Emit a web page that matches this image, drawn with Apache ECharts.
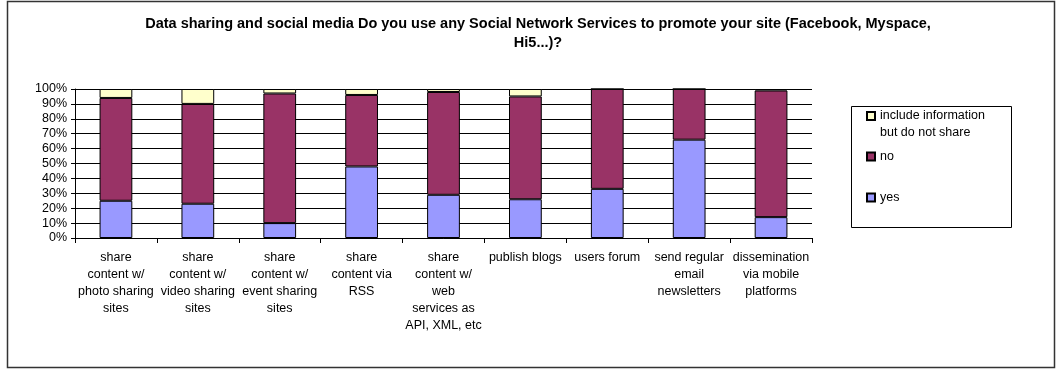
<!DOCTYPE html>
<html>
<head>
<meta charset="utf-8">
<script src="https://cdn.jsdelivr.net/npm/echarts@6/dist/echarts.min.js"></script>
<style>
  html, body { margin: 0; padding: 0; background: #fff; }
  #chart { width: 1063px; height: 369px; }
</style>
</head>
<body>
<div id="chart"></div>
<script>
// Survey question and answer categories
const titleText = 'Data sharing and social media Do you use any Social Network Services to promote your site (Facebook, Myspace,\nHi5...)?';
const categories = [
  'share\ncontent w/\nphoto sharing\nsites',
  'share\ncontent w/\nvideo sharing\nsites',
  'share\ncontent w/\nevent sharing\nsites',
  'share\ncontent via\nRSS',
  'share\ncontent w/\nweb\nservices as\nAPI, XML, etc',
  'publish blogs',
  'users forum',
  'send regular\nemail\nnewsletters',
  'dissemination\nvia mobile\nplatforms'
];
// Percent of respondents per answer
const yesValues     = [25, 23, 10, 48, 29, 26, 33, 66, 14];
const noValues      = [69, 67, 87, 48, 69, 69, 67, 34, 85];
const includeValues = [6, 10, 3, 4, 2, 5, 0, 0, 1];
const seriesNames = ['yes', 'no', 'include information but do not share'];
const yTicks = [0, 10, 20, 30, 40, 50, 60, 70, 80, 90, 100];

const FONT = '"Liberation Sans", Arial, sans-serif';
const colors = { yes: '#9999FF', no: '#993366', include: '#FFFFCC' };

const chart = echarts.init(document.getElementById('chart'), null, { renderer: 'canvas' });

// One legend block per entry so each row sits at its own height;
// the long entry wraps onto two lines with its marker beside the first line.
function legendItem(name, top) {
  return {
    orient: 'vertical',
    left: 866,
    top: top,
    padding: 0,
    itemWidth: 8,
    itemHeight: 8,
    itemGap: 0,
    icon: 'rect',
    selectedMode: false,
    data: [name],
    formatter: n => n === seriesNames[2] ? '\ninclude information\nbut do not share' : n,
    textStyle: { fontFamily: FONT, fontSize: 12.5, color: '#000', lineHeight: 17 }
  };
}

chart.setOption({
  animation: false,
  backgroundColor: '#fff',
  title: {
    text: titleText,
    left: 533,
    top: 9,
    textAlign: 'center',
    textStyle: { fontFamily: FONT, fontSize: 14.5, fontWeight: 'bold', color: '#000', lineHeight: 19 }
  },
  legend: [
    legendItem(seriesNames[2], 90.5),
    legendItem(seriesNames[1], 148),
    legendItem(seriesNames[0], 189)
  ],
  grid: { left: 75, top: 89, width: 737, height: 149, containLabel: false },
  xAxis: {
    type: 'category',
    data: categories,
    axisLine: { lineStyle: { color: '#000', width: 1 } },
    axisTick: { show: true, length: 5, alignWithLabel: false, lineStyle: { color: '#000' } },
    axisLabel: { interval: 0, margin: 11, fontFamily: FONT, fontSize: 12.5, color: '#000', lineHeight: 17, align: 'center' },
    splitLine: { show: false }
  },
  yAxis: {
    type: 'value',
    min: yTicks[0],
    max: yTicks[yTicks.length - 1],
    interval: yTicks[1] - yTicks[0],
    axisLine: { show: true, lineStyle: { color: '#000', width: 1 } },
    axisTick: { show: true, length: 4, lineStyle: { color: '#000' } },
    axisLabel: { margin: 8, formatter: '{value}%', fontFamily: FONT, fontSize: 12.5, color: '#000' },
    splitLine: { show: true, lineStyle: { color: '#000', width: 1 } }
  },
  series: [
    { name: seriesNames[0], type: 'bar', stack: 'total', data: yesValues, barWidth: '40%',
      itemStyle: { color: colors.yes, borderColor: '#000', borderWidth: 1 } },
    { name: seriesNames[1], type: 'bar', stack: 'total', data: noValues, barWidth: '40%',
      itemStyle: { color: colors.no, borderColor: '#000', borderWidth: 1 } },
    { name: seriesNames[2], type: 'bar', stack: 'total', data: includeValues, barWidth: '40%',
      itemStyle: { color: colors.include, borderColor: '#000', borderWidth: 1 } }
  ],
  graphic: [
    // outer chart frame
    { type: 'rect', silent: true, z: -1,
      shape: { x: 7.5, y: 1.5, width: 1047, height: 366 },
      style: { fill: null, stroke: '#333', lineWidth: 1.5 } },
    // legend frame
    { type: 'rect', silent: true, z: -1,
      shape: { x: 851.5, y: 106.5, width: 160, height: 121 },
      style: { fill: '#fff', stroke: '#000', lineWidth: 1 } }
  ]
});
</script>
</body>
</html>
